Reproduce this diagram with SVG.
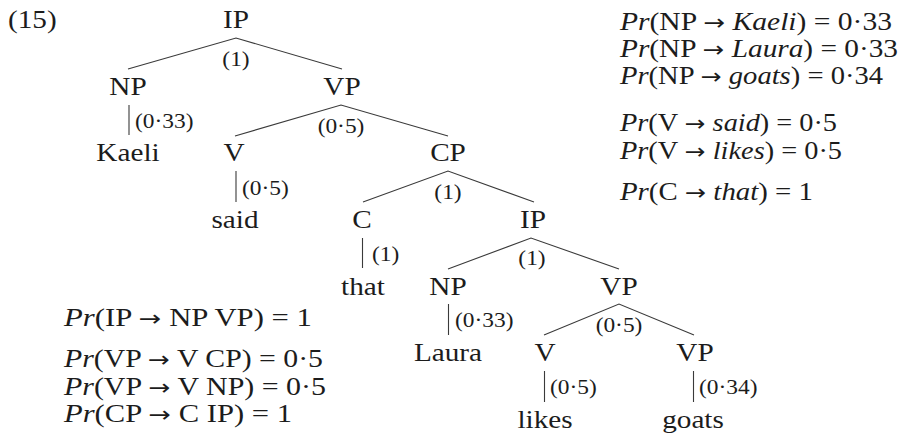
<svg xmlns="http://www.w3.org/2000/svg" width="901" height="434" viewBox="0 0 901 434">
<style>
.t{font-family:"Liberation Serif","Times New Roman",serif;font-size:25px;fill:#1c1c1c}
.m{text-anchor:middle}
.p{font-size:20px}
.i{font-style:italic}
.a{font-family:"DejaVu Sans",sans-serif;font-size:22px}
.e{stroke:#3a3a3a;stroke-width:1.1;fill:none}
</style>
<rect width="901" height="434" fill="#ffffff"/>
<text id="exnum" class="t" transform="translate(8 28) scale(1.17 1)">(15)</text>
<g id="connectors">
  <path class="e" d="M128,69 L236,38 L342,69"/>
  <path class="e" d="M129,105 V135"/>
  <path class="e" d="M235,136 L341,105 L448,136"/>
  <path class="e" d="M236,171 V202"/>
  <path class="e" d="M363,202 L448,171 L534,202"/>
  <path class="e" d="M362.5,238 V268"/>
  <path class="e" d="M448,269 L531,238 L619,269"/>
  <path class="e" d="M448.5,304 V335"/>
  <path class="e" d="M544,335 L619,304 L694,335"/>
  <path class="e" d="M544.5,371 V402"/>
  <path class="e" d="M693.5,371 V402"/>
  <text class="t p m" transform="translate(236 66) scale(1.17 1)">(1)</text>
  <text class="t p" transform="translate(135 128) scale(1.17 1)">(0·33)</text>
  <text class="t p m" transform="translate(341 133) scale(1.17 1)">(0·5)</text>
  <text class="t p" transform="translate(242 195) scale(1.17 1)">(0·5)</text>
  <text class="t p m" transform="translate(448 199) scale(1.17 1)">(1)</text>
  <text class="t p" transform="translate(372 261) scale(1.17 1)">(1)</text>
  <text class="t p m" transform="translate(532 265) scale(1.17 1)">(1)</text>
  <text class="t p" transform="translate(455 327) scale(1.17 1)">(0·33)</text>
  <text class="t p m" transform="translate(619 332) scale(1.17 1)">(0·5)</text>
  <text class="t p" transform="translate(550 394) scale(1.17 1)">(0·5)</text>
  <text class="t p" transform="translate(699 394) scale(1.17 1)">(0·34)</text>
</g>
<g id="n-ip-top"><text class="t m" transform="translate(236 28) scale(1.17 1)">IP</text></g>
<g id="n-np-1"><text class="t m" transform="translate(128 94.7) scale(1.17 1)">NP</text></g>
<g id="n-vp-1"><text class="t m" transform="translate(342 94.7) scale(1.17 1)">VP</text></g>
<g id="n-kaeli"><text class="t m" transform="translate(128 161.3) scale(1.17 1)">Kaeli</text></g>
<g id="n-v-1"><text class="t m" transform="translate(234 161.3) scale(1.17 1)">V</text></g>
<g id="n-cp"><text class="t m" transform="translate(448 161.3) scale(1.17 1)">CP</text></g>
<g id="n-said"><text class="t m" transform="translate(235 228) scale(1.17 1)">said</text></g>
<g id="n-c"><text class="t m" transform="translate(362 228) scale(1.17 1)">C</text></g>
<g id="n-ip-2"><text class="t m" transform="translate(533 228) scale(1.17 1)">IP</text></g>
<g id="n-that"><text class="t m" transform="translate(363 294.7) scale(1.17 1)">that</text></g>
<g id="n-np-2"><text class="t m" transform="translate(448 294.7) scale(1.17 1)">NP</text></g>
<g id="n-vp-2"><text class="t m" transform="translate(619 294.7) scale(1.17 1)">VP</text></g>
<g id="n-laura"><text class="t m" transform="translate(448 361.3) scale(1.17 1)">Laura</text></g>
<g id="n-v-2"><text class="t m" transform="translate(545 361.3) scale(1.17 1)">V</text></g>
<g id="n-vp-3"><text class="t m" transform="translate(695 361.3) scale(1.17 1)">VP</text></g>
<g id="n-likes"><text class="t m" transform="translate(545 428) scale(1.17 1)">likes</text></g>
<g id="n-goats"><text class="t m" transform="translate(693 428) scale(1.17 1)">goats</text></g>
<g id="rules-lexical">
  <text class="t" x="620" y="30" textLength="272" lengthAdjust="spacingAndGlyphs"><tspan class="i">Pr</tspan>(NP <tspan class="a">→</tspan> <tspan class="i">Kaeli</tspan>) = 0·33</text>
  <text class="t" x="620" y="57" textLength="278" lengthAdjust="spacingAndGlyphs"><tspan class="i">Pr</tspan>(NP <tspan class="a">→</tspan> <tspan class="i">Laura</tspan>) = 0·33</text>
  <text class="t" x="620" y="84" textLength="263" lengthAdjust="spacingAndGlyphs"><tspan class="i">Pr</tspan>(NP <tspan class="a">→</tspan> <tspan class="i">goats</tspan>) = 0·34</text>
  <text class="t" x="620" y="131" textLength="217" lengthAdjust="spacingAndGlyphs"><tspan class="i">Pr</tspan>(V <tspan class="a">→</tspan> <tspan class="i">said</tspan>) = 0·5</text>
  <text class="t" x="620" y="159" textLength="222" lengthAdjust="spacingAndGlyphs"><tspan class="i">Pr</tspan>(V <tspan class="a">→</tspan> <tspan class="i">likes</tspan>) = 0·5</text>
  <text class="t" x="620" y="200" textLength="193" lengthAdjust="spacingAndGlyphs"><tspan class="i">Pr</tspan>(C <tspan class="a">→</tspan> <tspan class="i">that</tspan>) = 1</text>
</g>
<g id="rules-phrasal">
  <text class="t" x="64" y="326" textLength="248" lengthAdjust="spacingAndGlyphs"><tspan class="i">Pr</tspan>(IP <tspan class="a">→</tspan> NP VP) = 1</text>
  <text class="t" x="64" y="367" textLength="259" lengthAdjust="spacingAndGlyphs"><tspan class="i">Pr</tspan>(VP <tspan class="a">→</tspan> V CP) = 0·5</text>
  <text class="t" x="64" y="395" textLength="262" lengthAdjust="spacingAndGlyphs"><tspan class="i">Pr</tspan>(VP <tspan class="a">→</tspan> V NP) = 0·5</text>
  <text class="t" x="64" y="422" textLength="228" lengthAdjust="spacingAndGlyphs"><tspan class="i">Pr</tspan>(CP <tspan class="a">→</tspan> C IP) = 1</text>
</g>
</svg>
